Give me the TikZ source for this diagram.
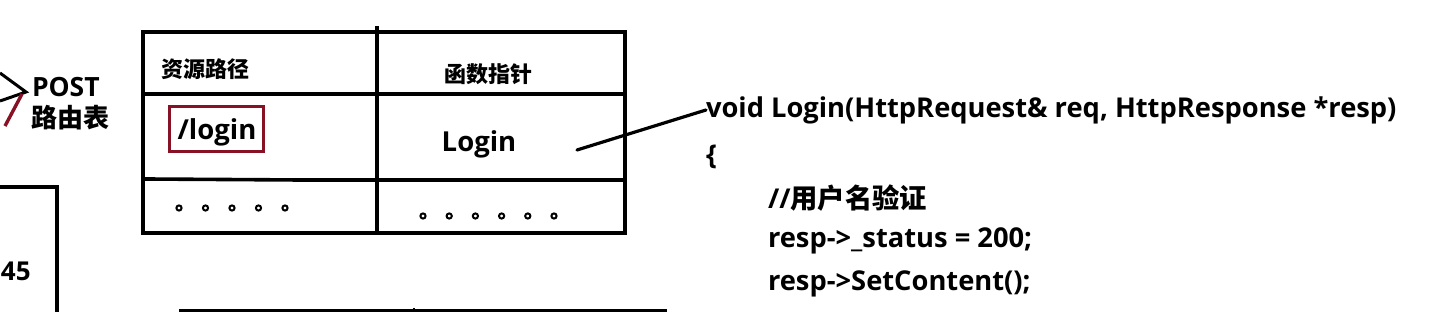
\documentclass[tikz,border=0pt]{standalone}
\usepackage{fontspec}
\setmainfont{Open Sans}
\newfontfamily\cjk{Noto Sans CJK SC}
\usepackage{xcolor}
\usepackage{tikz}
\usetikzlibrary{positioning, arrows.meta}
\definecolor{pathred}{RGB}{135,18,38}

\begin{document}
\begin{tikzpicture}[
  x=1pt, y=-1pt,
  every node/.style={inner sep=0pt, outer sep=0pt},
  tbl/.style={line width=3.6pt, line cap=rect},
  head/.style={font=\cjk\bfseries\fontsize{22}{24}\selectfont},
  cell/.style={font=\bfseries\fontsize{27.5}{30}\selectfont},
  code/.style={font=\bfseries\fontsize{27.3}{30}\selectfont, anchor=west},
  dot/.style={line width=2pt},
  link/.style={line width=3.2pt, line cap=round},
]
\useasboundingbox (0,0) rectangle (1452,312);

% incoming arrow and label
\coordinate (tip) at (26,92);
\draw[line width=3pt] (0,73) -- (tip) -- (0,101);
\draw[line width=3.4pt, pathred] (22,94) -- (5,126);
\node[font=\bfseries\fontsize{26.5}{28}\selectfont, anchor=west] (post) at (32,87) {POST};
\node[font=\cjk\bfseries\fontsize{26}{28}\selectfont, anchor=west] (rtab) at (31,118) {路由表};

% box on the left
\draw[tbl] (-5,187) -- (57,187) -- (57,320);
\node[font=\bfseries\fontsize{26}{28}\selectfont, anchor=west] (num) at (1,271) {45};

% route table
\draw[tbl] (143,32) rectangle (625,233);
\draw[tbl] (377,28) -- (377,233);
\draw[tbl] (143,94) -- (625,94);
\draw[tbl] (147,179) -- (300,180) -- (625,180);
\node[head, anchor=west] (hpath) at (161,69) {资源路径};
\node[head] (hfunc) at (488,74) {函数指针};

% first entry
\node[cell] (route) at (217,132) {/login};
\draw[pathred, line width=3pt] (169,107) rectangle (263,152);
\node[cell] (fn) at (479,144) {Login};
\coordinate (ptr) at (577,150);

% elided entries
\foreach \x in {0,...,4}
  \draw[dot] (179+26.5*\x,208) circle (2.6);
\foreach \x in {0,...,5}
  \draw[dot] (423+26.2*\x,216) circle (2.6);

% next table, cut off
\draw[line width=2.2pt] (179,310.5) -- (667,310.5);
\draw[line width=2pt] (414,308) -- (414,312);

% handler code
\node[code] (sig) at (706,110) {void Login(HttpRequest\& req, HttpResponse *resp)};
\node[code] (lbr) at ([yshift=-47pt]sig.west) {\{};
\node[code] (cmt) at ([xshift=62pt, yshift=-88pt]sig.west) {//{\cjk\bfseries 用户名验证}};
\node[code] (st) at ([yshift=-43pt]cmt.west) {resp->\_status = 200;};
\node[code] (sc) at ([yshift=-43pt]st.west) {resp->SetContent();};

\draw[link] (ptr) -- (sig.west);

\end{tikzpicture}
\end{document}
